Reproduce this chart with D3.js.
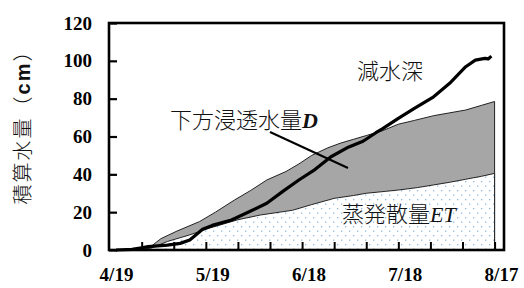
<!DOCTYPE html>
<html>
<head>
<meta charset="utf-8">
<script src="https://cdn.jsdelivr.net/npm/d3@7"></script>
<style>
body{margin:0;background:#fff;}
svg{display:block;}
.tick text{font-family:"Liberation Serif","Times New Roman",serif;font-weight:bold;font-size:19px;fill:#000;}
.jp{font-family:"Noto Sans CJK JP",sans-serif;font-weight:300;fill:#111;}
</style>
</head>
<body>
<svg id="chart" width="524" height="288"></svg>
<script>
// dates of each reading (year is arbitrary)
var etDates   = ["4/19","4/26","4/30","5/5","5/12","5/18","5/27","6/3","6/13","6/19","6/26","7/2","7/6","7/12","7/16","7/22","7/27","8/1","8/6","8/11","8/15"];
var etValues  = [0,0.3,1,4.5,8,11.5,16,18.5,21,24,27.3,28.8,30,31,31.7,33,34.4,35.8,37.4,39,40.5];

var topDates  = ["4/19","4/26","4/30","5/3","5/8","5/15","5/20","5/26","5/31","6/5","6/11","6/15","6/19","6/24","6/28","7/2","7/6","7/11","7/16","7/21","7/27","8/1","8/6","8/11","8/15"];
var topValues = [0,0.5,2,6,10,15,20,26.5,31.5,37,41.5,45.5,50,54,56.5,58.5,60.5,63,66.5,68.5,71,72.5,74,76.5,78.5];

var wdDates   = ["4/19","4/24","4/27","4/29","5/5","5/9","5/12","5/16","5/19","5/25","5/29","6/5","6/10","6/15","6/20","6/25","6/30","7/5","7/9","7/11","7/16","7/21","7/27","8/1","8/6","8/9","8/12","8/13","8/14"];
var wdValues  = [0,0.3,1.2,1.8,2.6,3.5,5.3,11,13,15.9,19,24.7,31,37,42.5,49.3,54,57.5,62,64,69.6,74.9,81,88.1,96.9,100.4,101.3,101,102.5];

var xLabels = ["4/19","5/19","6/18","7/18","8/17"];
var xTicks  = ["4/27","5/7","5/17","5/27","6/6","6/16","6/26","7/6","7/16","7/26","8/5","8/15"];
var yTicks  = [0,20,40,60,80,100,120];

var parse = function(s){ var p=s.split("/"); return new Date(2000, +p[0]-1, +p[1]); };

var pLeft=109, pRight=504, pTop=23, pBottom=250;
var svg = d3.select("#chart");

var x = d3.scaleTime().domain([parse("4/19"), parse("8/17")]).range([116, 501]);
var y = d3.scaleLinear().domain([0,120]).range([pBottom, pTop]);

var defs = svg.append("defs");
var pat = defs.append("pattern").attr("id","dots").attr("patternUnits","userSpaceOnUse")
  .attr("width",8).attr("height",9);
pat.append("rect").attr("x",1).attr("y",1).attr("width",1.3).attr("height",1.3).attr("fill","#8db9e2");
pat.append("rect").attr("x",5).attr("y",5.5).attr("width",1.3).attr("height",1.3).attr("fill","#8db9e2");

var et = etDates.map(function(d,i){ return {date:parse(d), v:etValues[i]}; });
var tp = topDates.map(function(d,i){ return {date:parse(d), v:topValues[i]}; });
var wd = wdDates.map(function(d,i){ return {date:parse(d), v:wdValues[i]}; });

// gray area = whole top curve, then dotted ET region drawn over it
var areaTop = d3.area().x(function(d){return x(d.date);}).y0(y(0)).y1(function(d){return y(d.v);});
svg.append("path").datum(tp).attr("d",areaTop).attr("fill","#a6a6a6").attr("stroke","#222").attr("stroke-width",1);
svg.append("path").datum(et).attr("d",areaTop).attr("fill","#fff").attr("stroke","none");
svg.append("path").datum(et).attr("d",areaTop).attr("fill","url(#dots)").attr("stroke","#222").attr("stroke-width",1);

var line = d3.line().x(function(d){return x(d.date);}).y(function(d){return y(d.v);});
svg.append("path").datum(wd).attr("d",line).attr("fill","none").attr("stroke","#000").attr("stroke-width",3.2).attr("stroke-linejoin","round");

// axes
var yAxis = d3.axisLeft(y).tickValues(yTicks).tickSize(-8).tickPadding(17);
var ga = svg.append("g").attr("transform","translate("+pLeft+",0)").call(yAxis);
ga.select(".domain").remove();
ga.selectAll("line").attr("stroke","#000").attr("stroke-width",2.2);

var xTickAxis = d3.axisBottom(x).tickValues(xTicks.map(parse)).tickSize(-8).tickFormat("");
var gt = svg.append("g").attr("transform","translate(0,"+pBottom+")").call(xTickAxis);
gt.select(".domain").remove();
gt.selectAll("line").attr("stroke","#000").attr("stroke-width",2);

var xLabAxis = d3.axisBottom(x).tickValues(xLabels.map(parse)).tickSize(0).tickPadding(18)
  .tickFormat(function(d){ return (d.getMonth()+1)+"/"+d.getDate(); });
var gl = svg.append("g").attr("transform","translate(0,"+pBottom+")").call(xLabAxis);
gl.select(".domain").remove();

svg.append("rect").attr("x",pLeft).attr("y",pTop).attr("width",pRight-pLeft).attr("height",pBottom-pTop)
  .attr("fill","none").attr("stroke","#000").attr("stroke-width",2.6);

// y title
var yt = svg.append("text").attr("class","jp").attr("transform","translate(30,122) rotate(-90)")
  .attr("text-anchor","middle").attr("font-size",20).attr("letter-spacing",2);
yt.append("tspan").text("積算水量（");
yt.append("tspan").attr("font-weight","bold").attr("font-family","Liberation Sans,sans-serif").text("cm");
yt.append("tspan").text("）");

// annotations
svg.append("text").attr("class","jp").attr("x",390).attr("y",79).attr("text-anchor","middle")
  .attr("font-size",22).text("減水深");

var td = svg.append("text").attr("class","jp").attr("x",170).attr("y",128).attr("font-size",22);
td.append("tspan").text("下方浸透水量");
td.append("tspan").attr("font-family","Liberation Serif,serif").attr("font-style","italic").attr("font-weight","bold").text("D");

svg.append("line").attr("x1",270).attr("y1",132).attr("x2",348).attr("y2",168).attr("stroke","#000").attr("stroke-width",2);

var te = svg.append("text").attr("class","jp").attr("x",342).attr("y",222).attr("font-size",22);
te.append("tspan").text("蒸発散量");
te.append("tspan").attr("font-family","Liberation Serif,serif").attr("font-style","italic").text("ET");
</script>
</body>
</html>
